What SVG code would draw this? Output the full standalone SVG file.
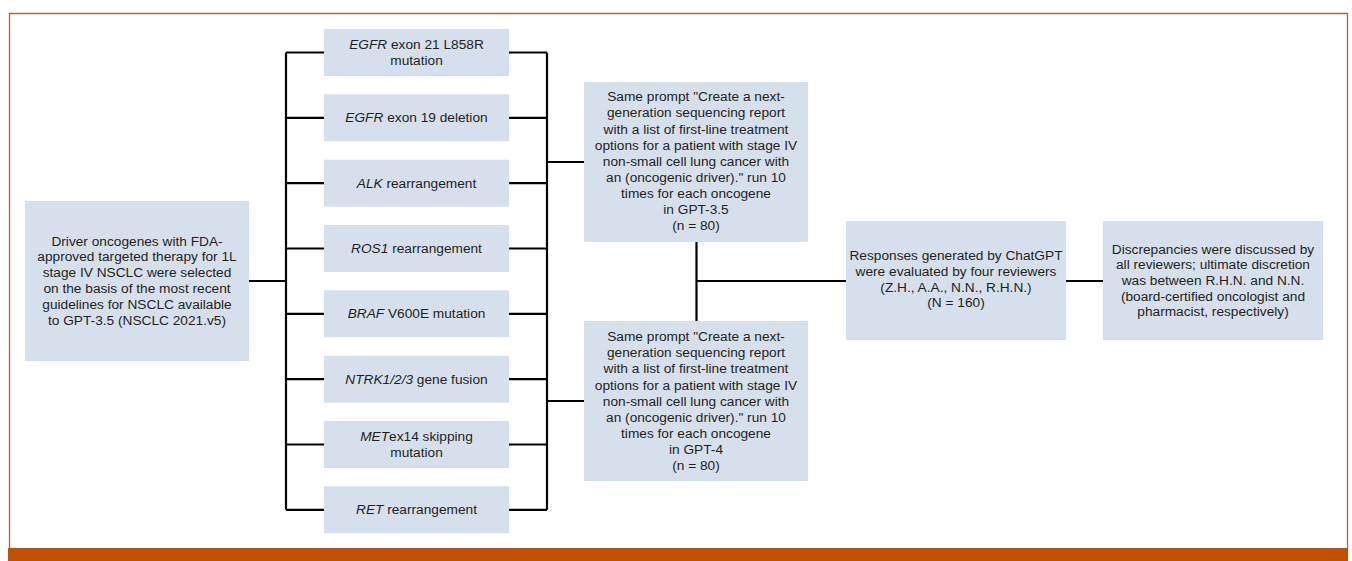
<svg xmlns="http://www.w3.org/2000/svg" width="1352" height="561" viewBox="0 0 1352 561">
<style>
.box{fill:#d6e0ed}
text{font-family:"Liberation Sans",Arial,sans-serif;font-size:13.7px;fill:#231f20;text-anchor:middle}
.i{font-style:italic}
.c{fill:none;stroke:#000;stroke-width:2.2}
</style>
<rect x="0" y="0" width="1352" height="561" fill="#fff"/>
<path d="M9.5,548 V13.5 H1347.5 V548" fill="none" stroke="#c85d1a" stroke-width="1.3"/>
<rect x="8" y="548" width="1340" height="13" fill="#c04f00"/>

<g id="connectors" class="c">
<path d="M249,281 H286"/>
<path d="M286,52.5 V509.8"/>
<path d="M286,52.5 H324 M286,117.8 H324 M286,183.2 H324 M286,248.5 H324 M286,313.8 H324 M286,379.2 H324 M286,444.5 H324 M286,509.8 H324"/>
<path d="M509,52.5 H547 M509,117.8 H547 M509,183.2 H547 M509,248.5 H547 M509,313.8 H547 M509,379.2 H547 M509,444.5 H547 M509,509.8 H547"/>
<path d="M547,52.5 V509.8"/>
<path d="M547,162 H584 M547,401 H584"/>
<path d="M696.5,242 V321 M696.5,281 H846"/>
<path d="M1066,281 H1103"/>
</g>

<g id="start">
<rect class="box" x="25" y="201" width="224" height="160"/>
<text x="137" y="245.5">Driver oncogenes with FDA-</text>
<text x="137" y="261.3">approved targeted therapy for 1L</text>
<text x="137" y="277.1">stage IV NSCLC were selected</text>
<text x="137" y="292.9">on the basis of the most recent</text>
<text x="137" y="308.7">guidelines for NSCLC available</text>
<text x="137" y="324.5">to GPT-3.5 (NSCLC 2021.v5)</text>
</g>

<g id="egfr21">
<rect class="box" x="324" y="29" width="185" height="47"/>
<text x="416.5" y="48.8"><tspan class="i">EGFR</tspan> exon 21 L858R</text>
<text x="416.5" y="65.2">mutation</text>
</g>
<g id="egfr19">
<rect class="box" x="324" y="94.3" width="185" height="47"/>
<text x="416.5" y="122.3"><tspan class="i">EGFR</tspan> exon 19 deletion</text>
</g>
<g id="alk">
<rect class="box" x="324" y="159.7" width="185" height="47"/>
<text x="416.5" y="187.7"><tspan class="i">ALK</tspan> rearrangement</text>
</g>
<g id="ros1">
<rect class="box" x="324" y="225" width="185" height="47"/>
<text x="416.5" y="253"><tspan class="i">ROS1</tspan> rearrangement</text>
</g>
<g id="braf">
<rect class="box" x="324" y="290.3" width="185" height="47"/>
<text x="416.5" y="318.3"><tspan class="i">BRAF</tspan> V600E mutation</text>
</g>
<g id="ntrk">
<rect class="box" x="324" y="355.7" width="185" height="47"/>
<text x="416.5" y="383.7"><tspan class="i">NTRK1/2/3</tspan> gene fusion</text>
</g>
<g id="met">
<rect class="box" x="324" y="421" width="185" height="47"/>
<text x="416.5" y="441.2"><tspan class="i">MET</tspan>ex14 skipping</text>
<text x="416.5" y="457.2">mutation</text>
</g>
<g id="ret">
<rect class="box" x="324" y="486.3" width="185" height="47"/>
<text x="416.5" y="514.3"><tspan class="i">RET</tspan> rearrangement</text>
</g>

<g id="gpt35">
<rect class="box" x="584" y="82" width="224" height="160"/>
<text x="696" y="101.3">Same prompt "Create a next-</text>
<text x="696" y="117.4">generation sequencing report</text>
<text x="696" y="133.5">with a list of first-line treatment</text>
<text x="696" y="149.6">options for a patient with stage IV</text>
<text x="696" y="165.7">non-small cell lung cancer with</text>
<text x="696" y="181.8">an (oncogenic driver)." run 10</text>
<text x="696" y="197.9">times for each oncogene</text>
<text x="696" y="214">in GPT-3.5</text>
<text x="696" y="230.1">(n = 80)</text>
</g>

<g id="gpt4">
<rect class="box" x="584" y="321" width="224" height="160"/>
<text x="696" y="341.2">Same prompt "Create a next-</text>
<text x="696" y="357.3">generation sequencing report</text>
<text x="696" y="373.4">with a list of first-line treatment</text>
<text x="696" y="389.5">options for a patient with stage IV</text>
<text x="696" y="405.6">non-small cell lung cancer with</text>
<text x="696" y="421.7">an (oncogenic driver)." run 10</text>
<text x="696" y="437.8">times for each oncogene</text>
<text x="696" y="453.9">in GPT-4</text>
<text x="696" y="470">(n = 80)</text>
</g>

<g id="responses">
<rect class="box" x="846" y="221" width="220" height="119"/>
<text x="956" y="260.2">Responses generated by ChatGPT</text>
<text x="956" y="275.9">were evaluated by four reviewers</text>
<text x="956" y="291.6">(Z.H., A.A., N.N., R.H.N.)</text>
<text x="956" y="307.3">(N = 160)</text>
</g>

<g id="discrepancies">
<rect class="box" x="1103" y="221" width="220" height="119"/>
<text x="1213" y="253.5">Discrepancies were discussed by</text>
<text x="1213" y="269.2">all reviewers; ultimate discretion</text>
<text x="1213" y="284.9">was between R.H.N. and N.N.</text>
<text x="1213" y="300.6">(board-certified oncologist and</text>
<text x="1213" y="316.3">pharmacist, respectively)</text>
</g>
</svg>
